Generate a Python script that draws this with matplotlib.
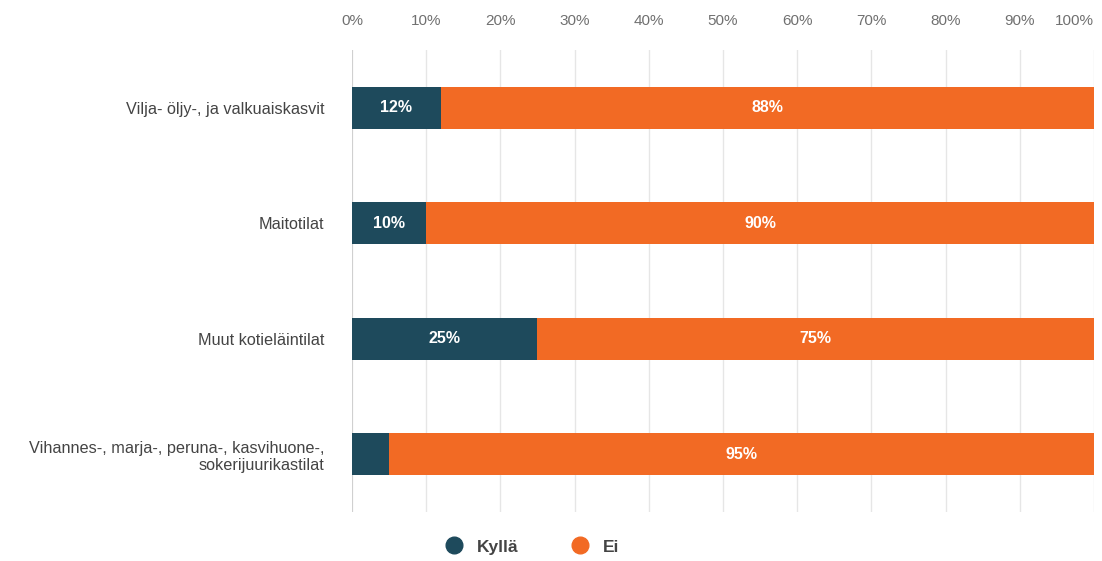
import numpy as np
import matplotlib.pyplot as plt
from matplotlib.lines import Line2D

plt.rcParams['font.family'] = ['Liberation Sans', 'DejaVu Sans']

categories = [
    'Vilja- öljy-, ja valkuaiskasvit',
    'Maitotilat',
    'Muut kotieläintilat',
    'Vihannes-, marja-, peruna-, kasvihuone-,\nsokerijuurikastilat',
]
kylla = [12, 10, 25, 5]
ei = [88, 90, 75, 95]
series_names = ['Kyllä', 'Ei']
ticks = list(range(0, 101, 10))

DARK = '#1e4a5c'
ORANGE = '#f26a24'

fig = plt.figure(figsize=(11.02, 5.61), dpi=100)
ax = fig.add_axes([0.3194, 0.0873, 0.6733, 0.8236])

y = np.arange(len(categories))
h = 0.364
ax.barh(y, kylla, height=h, color=DARK, zorder=3)
ax.barh(y, ei, left=kylla, height=h, color=ORANGE, zorder=3)

for i in range(len(categories)):
    if kylla[i] >= 10:
        ax.text(kylla[i] / 2, y[i], f'{kylla[i]}%', ha='center', va='center',
                color='white', fontsize=11.5, fontweight='bold', zorder=4)
    ax.text(kylla[i] + ei[i] / 2, y[i], f'{ei[i]}%', ha='center', va='center',
            color='white', fontsize=11.5, fontweight='bold', zorder=4)

ax.set_xlim(0, 100)
ax.set_ylim(3.5, -0.5)
ax.set_xticks(ticks)
ax.set_xticklabels([f'{t}%' for t in ticks])
ax.xaxis.tick_top()
ax.tick_params(axis='x', length=0, pad=16, labelsize=11, labelcolor='#707070')
# last label sits inside the figure edge, as in the original
ax.get_xticklabels()[-1].set_horizontalalignment('right')
ax.set_yticks(y)
ax.set_yticklabels(categories, fontsize=11.7, color='#444444', linespacing=1.15)
ax.tick_params(axis='y', length=0, pad=20)
ax.grid(axis='x', color='#e6e6e6', lw=1, zorder=0)
for s in ax.spines.values():
    s.set_visible(False)
ax.axvline(0, color='#cccccc', lw=1.2, zorder=2)

handles = [Line2D([], [], marker='o', ls='', color=c, markersize=12)
           for c in (DARK, ORANGE)]
fig.legend(handles, series_names, loc='center', bbox_to_anchor=(0.479, 0.025),
           ncol=2, frameon=False, handletextpad=0.35, columnspacing=2.5,
           prop={'size': 12.5, 'weight': 'bold'}, labelcolor='#444444')

fig.savefig('out.png', dpi=100)
